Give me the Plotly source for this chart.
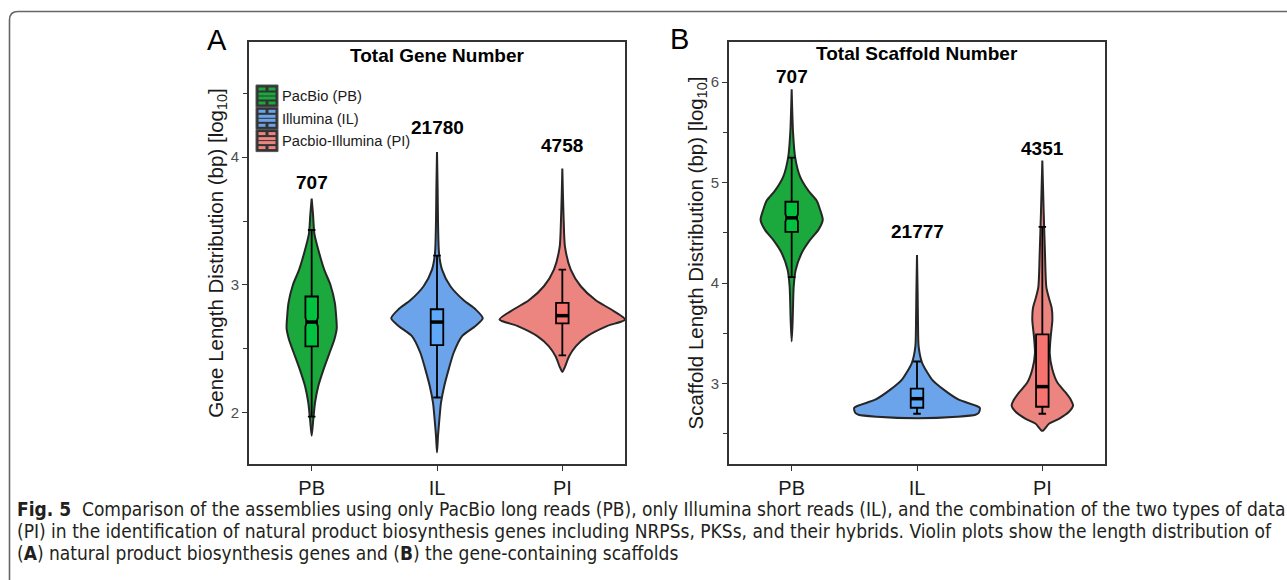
import plotly.graph_objects as go

W, H = 1287, 580

# ---------------- data ----------------
categories = ["PB", "IL", "PI"]
legend_labels = ["PacBio (PB)", "Illumina (IL)", "Pacbio-Illumina (PI)"]
violin_colors = ["#1BA83C", "#6CA4EC", "#EC847F"]
box_colors = ["#00C23F", "#5EA8F7", "#F6736F"]

# Panel A: gene length (log10 bp)
geneA_counts = [707, 21780, 4758]
geneA_count_y = [3.80, 4.23, 4.09]
geneA_PB_y = [1.82, 1.95, 2.08, 2.21, 2.34, 2.47, 2.57, 2.66, 2.76, 2.86, 3.00, 3.12, 3.25, 3.40, 3.55, 3.675]
geneA_PB_w = [0, .013, .027, .053, .095, .143, .180, .200, .195, .185, .150, .100, .060, .022, .011, 0]
geneA_IL_y = [1.69, 1.82, 1.95, 2.08, 2.21, 2.34, 2.47, 2.60, 2.68, 2.74, 2.81, 2.88, 2.99, 3.12, 3.25, 3.50, 3.75, 4.04]
geneA_IL_w = [0, .008, .019, .032, .058, .093, .133, .200, .307, .365, .307, .213, .107, .040, .016, .008, .005, 0]
geneA_PI_y = [2.32, 2.36, 2.44, 2.52, 2.60, 2.68, 2.73, 2.81, 2.88, 2.99, 3.12, 3.30, 3.50, 3.70, 3.91]
geneA_PI_w = [0, .021, .053, .107, .200, .360, .501, .387, .267, .147, .067, .021, .011, .005, 0]
geneA_q1 = [2.52, 2.53, 2.70]
geneA_med = [2.71, 2.71, 2.76]
geneA_q3 = [2.91, 2.81, 2.86]
geneA_lo = [1.97, 2.12, 2.45]
geneA_hi = [3.43, 3.23, 3.12]

# Panel B: scaffold length (log10 bp)
scafB_counts = [707, 21777, 4351]
scafB_count_y = [6.06, 4.51, 5.34]
scafB_PB_y = [3.42, 3.63, 3.96, 4.13, 4.30, 4.43, 4.53, 4.63, 4.73, 4.82, 4.92, 5.06, 5.26, 5.50, 5.93]
scafB_PB_w = [0, .008, .016, .032, .080, .147, .213, .248, .227, .200, .133, .067, .027, .011, 0]
scafB_IL_y = [2.655, 2.67, 2.69, 2.71, 2.76, 2.84, 2.94, 3.04, 3.21, 3.37, 3.60, 3.90, 4.28]
scafB_IL_w = [0, .320, .467, .493, .501, .333, .213, .120, .040, .013, .008, .005, 0]
scafB_PI_y = [2.53, 2.60, 2.65, 2.72, 2.78, 2.84, 2.91, 3.01, 3.14, 3.30, 3.47, 3.63, 3.75, 3.85, 3.96, 4.30, 4.70, 5.22]
scafB_PI_w = [0, .053, .133, .213, .245, .227, .187, .120, .080, .059, .067, .080, .075, .053, .032, .021, .011, 0]
scafB_q1 = [4.51, 2.76, 2.77]
scafB_med = [4.65, 2.85, 2.97]
scafB_q3 = [4.81, 2.95, 3.49]
scafB_lo = [4.06, 2.70, 2.70]
scafB_hi = [5.25, 3.22, 4.56]

caption_lines = [
    "<b>Fig. 5</b>  Comparison of the assemblies using only PacBio long reads (PB), only Illumina short reads (IL), and the combination of the two types of data",
    "(PI) in the identification of natural product biosynthesis genes including NRPSs, PKSs, and their hybrids. Violin plots show the length distribution of",
    "(<b>A</b>) natural product biosynthesis genes and (<b>B</b>) the gene-containing scaffolds",
]


# ---------------- helpers ----------------
def px(x):
    return x / W


def py(y):
    return 1 - y / H


fig = go.Figure()

panels = [
    dict(xa="x", ya="y", xb="x3", yb="y3",
         prof=[(geneA_PB_y, geneA_PB_w), (geneA_IL_y, geneA_IL_w), (geneA_PI_y, geneA_PI_w)],
         q1=geneA_q1, med=geneA_med, q3=geneA_q3, lo=geneA_lo, hi=geneA_hi,
         counts=geneA_counts, count_y=geneA_count_y),
    dict(xa="x2", ya="y2", xb="x4", yb="y4",
         prof=[(scafB_PB_y, scafB_PB_w), (scafB_IL_y, scafB_IL_w), (scafB_PI_y, scafB_PI_w)],
         q1=scafB_q1, med=scafB_med, q3=scafB_q3, lo=scafB_lo, hi=scafB_hi,
         counts=scafB_counts, count_y=scafB_count_y),
]

annotations = []
shapes = []
BOXW = 0.1
SANS = "Liberation Sans, Arial"

for p in panels:
    for i, (yy, ww) in enumerate(p["prof"]):
        xs = [i - w for w in ww] + [i + w for w in reversed(ww)]
        ys = list(yy) + list(reversed(yy))
        fig.add_trace(go.Scatter(
            x=xs, y=ys, mode="lines", fill="toself",
            fillcolor=violin_colors[i],
            line=dict(color="#262626", width=2, shape="spline", smoothing=0.7),
            xaxis=p["xa"], yaxis=p["ya"], showlegend=False, hoverinfo="skip"))
    for i in range(3):
        kw = dict(notched=True, notchspan=[0.035], notchwidth=0.12) if i == 0 else {}
        # boxes live on an overlaying subplot so they are drawn above the violin fills
        fig.add_trace(go.Box(
            x=[i], q1=[p["q1"][i]], median=[p["med"][i]], q3=[p["q3"][i]],
            lowerfence=[p["lo"][i]], upperfence=[p["hi"][i]],
            orientation="v",
            fillcolor=box_colors[i], line=dict(color="black", width=1.8),
            width=BOXW, whiskerwidth=0.6, boxpoints=False,
            xaxis=p["xb"], yaxis=p["yb"], showlegend=False, **kw))
        shapes.append(dict(type="line", xref=p["xa"], yref=p["ya"],
                           x0=i - BOXW / 2, x1=i + BOXW / 2,
                           y0=p["med"][i], y1=p["med"][i],
                           line=dict(color="black", width=3.5)))
        annotations.append(dict(xref=p["xa"], yref=p["ya"], x=i, y=p["count_y"][i],
                                xanchor="center", yanchor="middle",
                                text="<b>%d</b>" % p["counts"][i], showarrow=False,
                                font=dict(family=SANS, size=19, color="black")))

axis_common = dict(showline=True, mirror=True, linecolor="#333333", linewidth=1.6,
                   ticks="outside", ticklen=5, tickwidth=1.3, tickcolor="#333333",
                   showgrid=False, zeroline=False)

yfont = dict(family=SANS, size=15, color="#4d4d4d")
xfont = dict(family=SANS, size=20, color="#1a1a1a")
tfont = dict(family=SANS, size=20.5, color="#1a1a1a")

ytop, ybot = py(42), py(464)
xdomA = [px(249), px(625)]
xdomB = [px(729), px(1105)]
yrA = [1.6, 4.9]
yrB = [2.2, 6.4]
xr = [-0.5, 2.5]
hidden = dict(visible=False, showgrid=False, zeroline=False)

fig.update_layout(
    width=W, height=H, margin=dict(l=0, r=0, t=0, b=0),
    paper_bgcolor="white", plot_bgcolor="white", showlegend=False,
    xaxis=dict(domain=xdomA, range=xr, tickvals=[0, 1, 2],
               ticktext=categories, tickfont=xfont, anchor="y", **axis_common),
    yaxis=dict(domain=[ybot, ytop], range=yrA, tickvals=[2, 3, 4], tickfont=yfont,
               minor=dict(tickvals=[2.5, 3.5, 4.5], ticks="outside", ticklen=4, tickcolor="#333333"),
               title=dict(text="Gene Length Distribution (bp) [log<sub>10</sub>]", font=tfont, standoff=2),
               anchor="x", **axis_common),
    xaxis2=dict(domain=xdomB, range=xr, tickvals=[0, 1, 2],
                ticktext=categories, tickfont=xfont, anchor="y2", **axis_common),
    yaxis2=dict(domain=[ybot, ytop], range=yrB, tickvals=[3, 4, 5, 6], tickfont=yfont,
                minor=dict(tickvals=[2.5, 3.5, 4.5, 5.5], ticks="outside", ticklen=4, tickcolor="#333333"),
                title=dict(text="Scaffold Length Distribution (bp) [log<sub>10</sub>]", font=tfont, standoff=2),
                anchor="x2", **axis_common),
    xaxis3=dict(domain=xdomA, range=xr, overlaying="x", anchor="y3", **hidden),
    yaxis3=dict(domain=[ybot, ytop], range=yrA, overlaying="y", anchor="x3", **hidden),
    xaxis4=dict(domain=xdomB, range=xr, overlaying="x2", anchor="y4", **hidden),
    yaxis4=dict(domain=[ybot, ytop], range=yrB, overlaying="y2", anchor="x4", **hidden),
)

# panel titles and letters
annotations += [
    dict(xref="paper", yref="paper", x=px(437), y=py(55), xanchor="center", yanchor="middle",
         text="<b>Total Gene Number</b>", showarrow=False, font=dict(family=SANS, size=19, color="black")),
    dict(xref="paper", yref="paper", x=px(917), y=py(54), xanchor="center", yanchor="middle",
         text="<b>Total Scaffold Number</b>", showarrow=False, font=dict(family=SANS, size=19, color="black")),
    dict(xref="paper", yref="paper", x=px(217), y=py(40), xanchor="center", yanchor="middle", text="A",
         showarrow=False, font=dict(family=SANS, size=29, color="black")),
    dict(xref="paper", yref="paper", x=px(679), y=py(39), xanchor="center", yanchor="middle", text="B",
         showarrow=False, font=dict(family=SANS, size=29, color="black")),
]

# manual legend (panel A, top-left)
key_x0, key_x1 = 256, 278
for k, lab in enumerate(legend_labels):
    top = 85 + 22.3 * k
    shapes.append(dict(type="rect", xref="paper", yref="paper",
                       x0=px(key_x0), x1=px(key_x1), y0=py(top), y1=py(top + 22),
                       fillcolor="#333333", line=dict(color="#555555", width=1)))
    rows = [(2.5, 5.5, True), (7.5, 10.5, False), (11.5, 14.5, False), (16.5, 19.5, True)]
    for (r0, r1, split) in rows:
        if split:
            segs = [(key_x0 + 2.5, key_x0 + 9.5), (key_x0 + 12.5, key_x1 - 2.5)]
        else:
            segs = [(key_x0 + 2.5, key_x1 - 2.5)]
        for (s0, s1) in segs:
            shapes.append(dict(type="rect", xref="paper", yref="paper",
                               x0=px(s0), x1=px(s1), y0=py(top + r0), y1=py(top + r1),
                               fillcolor=violin_colors[k], line=dict(width=0)))
    annotations.append(dict(xref="paper", yref="paper", x=px(280), y=py(top + 11.5),
                            xanchor="left", yanchor="middle", text=lab, showarrow=False,
                            font=dict(family=SANS, size=14.7, color="#1a1a1a")))

# caption
cap_font = dict(family="Liberation Sans Narrow, DejaVu Sans Condensed, Roboto", size=19, color="#231f20")
for j, line in enumerate(caption_lines):
    annotations.append(dict(xref="paper", yref="paper", x=px(15), y=py(509 + 22 * j),
                            xanchor="left", yanchor="middle", text=line, showarrow=False, font=cap_font))

# outer rounded frame
shapes.append(dict(type="path", xref="paper", yref="paper",
                   path="M %f,%f L %f,%f Q %f,%f %f,%f L %f,%f" % (
                       px(9.5), py(582), px(9.5), py(20), px(9.5), py(11.5), px(18), py(11.5), px(1290), py(11.5)),
                   line=dict(color="#666666", width=1.6)))

fig.update_layout(annotations=annotations, shapes=shapes)
fig.write_html("out.html")
